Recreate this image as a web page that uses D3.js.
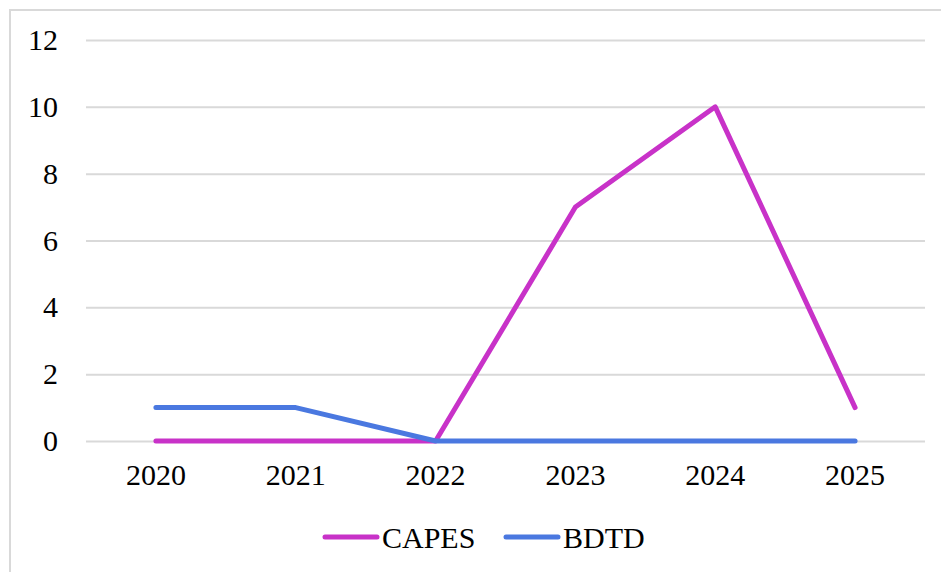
<!DOCTYPE html>
<html>
<head>
<meta charset="utf-8">
<script src="https://cdn.jsdelivr.net/npm/d3@7"></script>
<style>
  body { margin: 0; background: #fff; }
</style>
</head>
<body>
<div id="chart-area"></div>
<script>
var years = ["2020", "2021", "2022", "2023", "2024", "2025"];
var capes = [0, 0, 0, 7, 10, 1];
var bdtd = [1, 1, 0, 0, 0, 0];
var yTicks = [0, 2, 4, 6, 8, 10, 12];

var series = [
    { name: "CAPES", values: capes, color: "#c832c8" },
    { name: "BDTD", values: bdtd, color: "#4a78e0" }
];

var FONT = "'Liberation Serif', 'Times New Roman', serif";

var W = 941, H = 572;
var margin = { top: 40, right: 16, bottom: 131, left: 86 },
    width = W - margin.left - margin.right,
    height = H - margin.top - margin.bottom;

var root = d3.select("#chart-area")
    .append("svg")
    .attr("width", W)
    .attr("height", H);

// outer frame
root.append("rect")
    .attr("x", 10)
    .attr("y", 10)
    .attr("width", W + 10)
    .attr("height", H + 10)
    .attr("fill", "none")
    .attr("stroke", "#d9d9d9")
    .attr("stroke-width", 2);

var svg = root.append("g")
    .attr("transform", "translate(" + margin.left + "," + margin.top + ")");

var xScale = d3.scaleBand()
    .domain(years)
    .range([0, width]);

var yScale = d3.scaleLinear()
    .domain([0, 12])
    .range([height, 0]);

// gridlines
svg.append("g")
    .attr("class", "grid")
    .call(d3.axisLeft(yScale).tickValues(yTicks).tickSize(-width).tickFormat(""))
    .call(function(g) { g.select(".domain").remove(); })
    .selectAll("line")
    .attr("stroke", "#d9d9d9")
    .attr("stroke-width", 2);

// y labels
svg.append("g")
    .call(d3.axisLeft(yScale).tickValues(yTicks).tickSize(0).tickPadding(28))
    .call(function(g) { g.select(".domain").remove(); })
    .attr("font-family", FONT)
    .attr("font-size", 30)
    .selectAll("text")
    .attr("fill", "#000");

// x labels
svg.append("g")
    .attr("transform", "translate(0," + height + ")")
    .call(d3.axisBottom(xScale).tickSize(0).tickPadding(23))
    .call(function(g) { g.select(".domain").remove(); })
    .attr("font-family", FONT)
    .attr("font-size", 30)
    .selectAll("text")
    .attr("fill", "#000");

var line = d3.line()
    .x(function(d, i) { return xScale(years[i]) + xScale.bandwidth() / 2; })
    .y(function(d) { return yScale(d); });

svg.selectAll(".series")
    .data(series)
    .enter().append("path")
    .attr("class", "series")
    .attr("d", function(s) { return line(s.values); })
    .attr("fill", "none")
    .attr("stroke", function(s) { return s.color; })
    .attr("stroke-width", 5)
    .attr("stroke-linecap", "round")
    .attr("stroke-linejoin", "round");

// legend
var legend = root.append("g")
    .attr("transform", "translate(0,537)");

var legendX = [325, 506];
var items = legend.selectAll(".item")
    .data(series)
    .enter().append("g")
    .attr("class", "item")
    .attr("transform", function(d, i) { return "translate(" + legendX[i] + ",0)"; });

items.append("line")
    .attr("x1", 0)
    .attr("x2", 52)
    .attr("stroke", function(d) { return d.color; })
    .attr("stroke-width", 5)
    .attr("stroke-linecap", "round");

items.append("text")
    .attr("x", 57)
    .attr("dy", "0.35em")
    .attr("font-family", FONT)
    .attr("font-size", 30)
    .attr("fill", "#000")
    .text(function(d) { return d.name; });
</script>
</body>
</html>
